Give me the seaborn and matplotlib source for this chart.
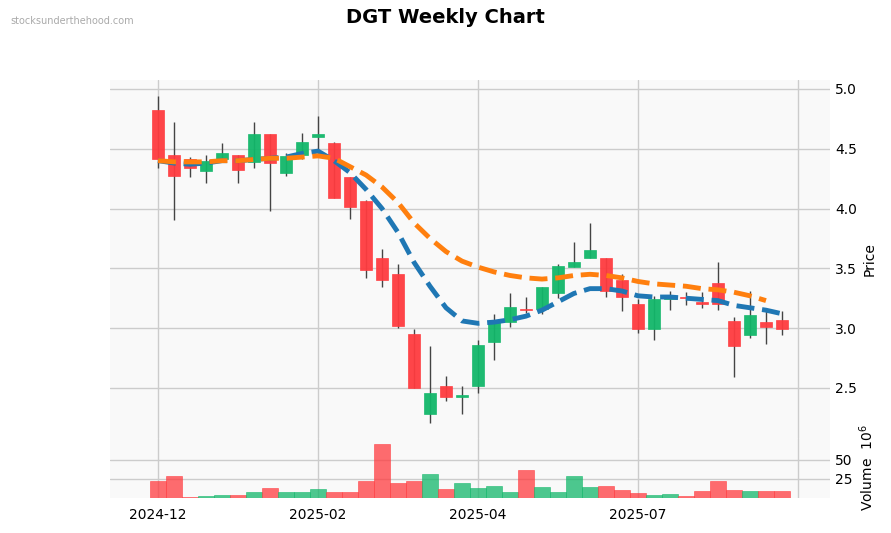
import numpy as np
import pandas as pd
import seaborn as sns
import matplotlib.pyplot as plt

# weekly OHLC
opens = [4.82, 4.45, 4.41, 4.31, 4.41, 4.45, 4.39, 4.62, 4.30, 4.45,
         4.60, 4.55, 4.26, 4.06, 3.59, 3.45, 2.95, 2.28, 2.52, 2.42,
         2.52, 2.88, 3.05, 3.16, 3.16, 3.29, 3.51, 3.59, 3.59, 3.40,
         3.20, 2.99, 3.24, 3.26, 3.22, 3.38, 3.06, 2.94, 3.05, 3.07]
highs = [4.94, 4.72, 4.43, 4.45, 4.55, 4.45, 4.72, 4.62, 4.46, 4.63,
         4.77, 4.56, 4.26, 4.07, 3.66, 3.54, 2.99, 2.85, 2.60, 2.52,
         2.90, 3.12, 3.29, 3.26, 3.34, 3.54, 3.72, 3.88, 3.59, 3.45,
         3.24, 3.27, 3.31, 3.30, 3.30, 3.55, 3.09, 3.31, 3.17, 3.14]
lows = [4.34, 3.90, 4.26, 4.21, 4.40, 4.21, 4.34, 3.98, 4.27, 4.41,
        4.50, 4.09, 3.91, 3.42, 3.34, 3.00, 2.50, 2.21, 2.39, 2.28,
        2.46, 2.73, 3.01, 3.13, 3.12, 3.25, 3.51, 3.59, 3.26, 3.14,
        2.96, 2.90, 3.15, 3.19, 3.17, 3.15, 2.59, 2.92, 2.87, 2.94]
closes = [4.41, 4.27, 4.34, 4.40, 4.46, 4.32, 4.62, 4.38, 4.44, 4.56,
          4.62, 4.09, 4.01, 3.49, 3.40, 3.02, 2.50, 2.46, 2.42, 2.44,
          2.86, 3.06, 3.18, 3.15, 3.34, 3.52, 3.55, 3.65, 3.31, 3.26,
          2.99, 3.24, 3.25, 3.25, 3.20, 3.20, 2.85, 3.11, 3.01, 2.99]
volumes = [22, 28, 1, 2, 4, 4, 8, 13, 8, 7,
           11, 7, 7, 22, 70, 19, 22, 31, 11, 19,
           13, 16, 7, 37, 14, 8, 28, 14, 16, 10,
           6, 4, 5, 3, 9, 22, 10, 9, 9, 9]
ma_fast = [4.40, 4.38, 4.37, 4.38, 4.40, 4.40, 4.41, 4.42, 4.43, 4.46,
           4.48, 4.40, 4.30, 4.16, 4.00, 3.80, 3.55, 3.35, 3.17, 3.06,
           3.04, 3.05, 3.07, 3.10, 3.15, 3.22, 3.29, 3.33, 3.33, 3.31,
           3.27, 3.26, 3.26, 3.25, 3.24, 3.23, 3.19, 3.17, 3.15, 3.12]
ma_slow = [4.40, 4.39, 4.39, 4.39, 4.40, 4.40, 4.41, 4.42, 4.42, 4.43,
           4.44, 4.42, 4.35, 4.28, 4.18, 4.05, 3.88, 3.75, 3.64, 3.56,
           3.51, 3.47, 3.44, 3.42, 3.41, 3.42, 3.44, 3.45, 3.44, 3.42,
           3.39, 3.37, 3.36, 3.35, 3.33, 3.32, 3.30, 3.27, 3.23]
tick_pos = [0, 10, 20, 30, 40]
tick_labels = ['2024-12', '2025-02', '2025-04', '2025-07', '']

df = pd.DataFrame({'open': opens, 'high': highs, 'low': lows,
                   'close': closes, 'volume': volumes})
df['idx'] = np.arange(len(df))
df['up'] = df['close'] >= df['open']
df['color'] = np.where(df['up'], '#12b76a', '#ff3b3f')

sns.set_theme(style='whitegrid', font='DejaVu Sans',
              rc={'axes.facecolor': '#f9f9f9', 'grid.color': '#cccccc',
                  'font.size': 10, 'xtick.labelsize': 10, 'ytick.labelsize': 10,
                  'axes.labelsize': 10, 'text.color': 'black',
                  'xtick.color': 'black', 'ytick.color': 'black',
                  'axes.labelcolor': 'black'})
fig = plt.figure(figsize=(8.91, 5.33), dpi=100)
ax = fig.add_axes([0.1235, 0.178, 0.808, 0.672])
axv = fig.add_axes([0.1235, 0.066, 0.808, 0.112], sharex=ax)

# wicks and bodies
ax.vlines(df['idx'], df['low'], df['high'], color='#444444', linewidth=1, zorder=2)
body_lo = df[['open', 'close']].min(axis=1)
body_h = (df['open'] - df['close']).abs().clip(lower=0.012)
ax.bar(df['idx'], body_h, bottom=body_lo, width=0.7, color=df['color'],
       edgecolor=df['color'], linewidth=0.5, alpha=0.95, zorder=3)

sns.lineplot(x=np.arange(len(ma_fast)), y=ma_fast, ax=ax, color='#1f77b4',
             linewidth=3.5, linestyle='--', zorder=4)
sns.lineplot(x=np.arange(len(ma_slow)), y=ma_slow, ax=ax, color='#ff7f0e',
             linewidth=3.5, linestyle='--', zorder=5)

ax.set_ylim(2.08, 5.075)
ax.set_xlim(-3, 42)
ax.yaxis.tick_right()
ax.yaxis.set_label_position('right')
ax.set_ylabel('Price')
ax.set_yticks([2.5, 3.0, 3.5, 4.0, 4.5, 5.0])
ax.set_xticks(tick_pos)
ax.tick_params(labelbottom=False, length=0)
ax.set_xlabel('')
for s in ax.spines.values():
    s.set_visible(False)

axv.bar(df['idx'], df['volume'], width=1.0, color=df['color'], alpha=0.75,
        edgecolor=df['color'], linewidth=0.5)
axv.set_ylim(0, 78)
axv.set_yticks([25, 50])
axv.yaxis.tick_right()
axv.yaxis.set_label_position('right')
axv.set_ylabel('Volume  $10^6$')
axv.set_xticks(tick_pos)
axv.set_xticklabels(tick_labels)
axv.tick_params(axis='x', length=4, color='#444444')
axv.tick_params(axis='y', length=0)
for s in axv.spines.values():
    s.set_visible(False)

fig.suptitle('DGT Weekly Chart', fontweight='bold', fontsize=14, y=0.985)
fig.text(0.012, 0.955, 'stocksunderthehood.com', fontsize=7, color='#aaaaaa')
fig.savefig('out.png', dpi=100)
